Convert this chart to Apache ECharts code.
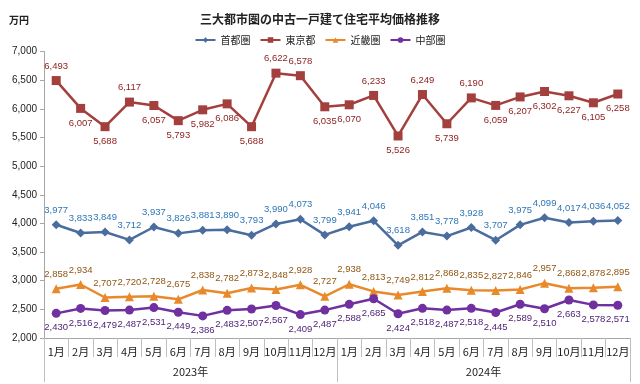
<!DOCTYPE html>
<html><head><meta charset="utf-8">
<script src="https://cdn.jsdelivr.net/npm/echarts@6/dist/echarts.min.js"></script>
<style>html,body{margin:0;padding:0;background:#fff}#c{width:640px;height:384px}</style>
</head><body><div id="c"></div>
<script>
const months = ['1月','2月','3月','4月','5月','6月','7月','8月','9月','10月','11月','12月','1月','2月','3月','4月','5月','6月','7月','8月','9月','10月','11月','12月'];
const years = ['2023年','2024年'];
const shutoken = [3977,3833,3849,3712,3937,3826,3881,3890,3793,3990,4073,3799,3941,4046,3618,3851,3778,3928,3707,3975,4099,4017,4036,4052];
const tokyo = [6493,6007,5688,6117,6057,5793,5982,6086,5688,6622,6578,6035,6070,6233,5526,6249,5739,6190,6059,6207,6302,6227,6105,6258];
const kinki = [2858,2934,2707,2720,2728,2675,2838,2782,2873,2848,2928,2727,2938,2813,2749,2812,2868,2835,2827,2846,2957,2868,2878,2895];
const chubu = [2430,2516,2479,2487,2531,2449,2386,2483,2507,2567,2409,2487,2588,2685,2424,2518,2487,2518,2445,2589,2510,2663,2578,2571];
const tokyoLabelPos = ['top','bottom','bottom','top','bottom','bottom','bottom','bottom','bottom','top','top','bottom','bottom','top','bottom','top','bottom','top','bottom','bottom','bottom','bottom','bottom','bottom'];

const font = '"Noto Sans CJK JP", "Noto Sans", sans-serif';
const narrow = '"Liberation Sans", Arial, sans-serif';
const fmt = v => v.toLocaleString('en-US');

function mk(name, data, color, labelColor, symbol, size, defPos, pos) {
  return {
    name, type: 'line', data: data.map((v,i)=>({value:v, label:{position: pos ? pos[i] : defPos}})),
    symbol, symbolSize: size,
    lineStyle: {color, width: 2.5},
    itemStyle: {color},
    label: {show: true, position: defPos, distance: 5,
      color: labelColor, fontSize: 9.5, fontFamily: narrow, formatter: p => fmt(p.value)},
    animation: false
  };
}

const chart = echarts.init(document.getElementById('c'));
chart.setOption({
  backgroundColor: '#fff',
  animation: false,
  title: {text: '三大都市圏の中古一戸建て住宅平均価格推移', left: 'center', top: 8,
    textStyle: {fontSize: 12, fontWeight: 'bold', color: '#222', fontFamily: font}},
  legend: {top: 30, left: 'center', itemWidth: 20, itemHeight: 7, itemGap: 9,
    textStyle: {fontSize: 10, color: '#222', fontFamily: font},
    data: ['首都圏','東京都','近畿圏','中部圏']},
  graphic: [{type: 'text', left: 9, top: 15, style: {text: '万円', fill: '#222', font: 'bold 10px ' + font}}],
  grid: {left: 44, right: 10, top: 51.5, bottom: 46},
  xAxis: [{
    type: 'category', data: months, boundaryGap: true,
    axisLine: {lineStyle: {color: '#a6a6a6'}},
    axisTick: {show: true, interval: 0, length: 19, lineStyle: {color: '#bfbfbf'}},
    axisLabel: {interval: 0, margin: 8, fontSize: 11, color: '#222', fontFamily: font}
  }, {
    type: 'category', data: years, position: 'bottom', boundaryGap: true,
    axisLine: {show: false},
    axisTick: {show: true, interval: 0, length: 44, lineStyle: {color: '#bfbfbf'}},
    axisLabel: {interval: 0, margin: 28, fontSize: 11, color: '#222', fontFamily: font}
  }],
  yAxis: {type: 'value', min: 2000, max: 7000, interval: 500,
    axisLine: {show: true, lineStyle: {color: '#a6a6a6'}},
    axisTick: {show: true, length: 4, lineStyle: {color: '#a6a6a6'}},
    splitLine: {show: false},
    axisLabel: {fontSize: 10, color: '#222', margin: 7, fontFamily: narrow, formatter: v => fmt(v)}},
  series: [
    mk('首都圏', shutoken, '#4a6d9e', '#2e75b6', 'diamond', 9, 'top'),
    mk('東京都', tokyo, '#a3403e', '#8b1c1c', 'rect', 9, 'top', tokyoLabelPos),
    mk('近畿圏', kinki, '#e8892b', '#8f5614', 'triangle', 9, 'top'),
    mk('中部圏', chubu, '#7030a0', '#4f2378', 'circle', 9, 'bottom')
  ]
});
</script></body></html>
